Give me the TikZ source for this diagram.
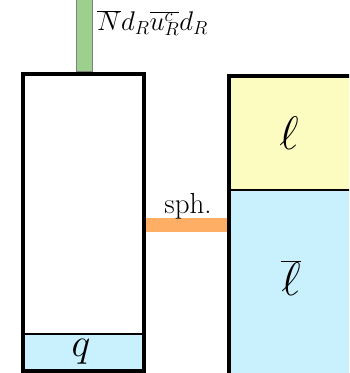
\RequirePackage{fix-cm}
\documentclass[tikz,border=0pt]{standalone}
\usepackage{fontspec}
\definecolor{barGreen}{RGB}{157,207,141}
\definecolor{barOrange}{RGB}{255,174,102}
\definecolor{fillYellow}{RGB}{252,252,192}
\definecolor{fillBlue}{RGB}{200,240,253}
\tikzset{
  bigbox/.style={draw=black, line width=4pt, inner sep=0pt, outer sep=0pt, anchor=north west},
  divider/.style={draw=black, line width=1.8pt},
  biglabel/.style={font=\fontsize{40}{44}\selectfont, inner sep=0pt},
  lepton/.style={font=\fontsize{47}{50}\selectfont, inner sep=0pt},
  smalllabel/.style={font=\fontsize{29}{34}\selectfont, inner sep=0pt},
  mathlabel/.style={font=\fontsize{27}{32}\selectfont, inner sep=0pt},
}
\begin{document}
\begin{tikzpicture}[x=1pt,y=-1pt]
\useasboundingbox (0,0) rectangle (349,373);
\clip (0,0) rectangle (349,373);
% fills
\fill[fillBlue] (23,334) rectangle (143.5,371);
\fill[fillYellow] (228.5,75.5) rectangle (351.5,190);
\fill[fillBlue] (228.5,190) rectangle (351.5,376);
% green bar
\node[draw=gray, line width=0.6pt, fill=barGreen, minimum width=15.5pt, minimum height=80pt, inner sep=0pt, anchor=south west] (gbar) at (76,72) {};
% orange bar
\node[fill=barOrange, minimum width=85pt, minimum height=14pt, inner sep=0pt] (obar) at (186,225) {};
% boxes
\node[bigbox, minimum width=120.5pt, minimum height=297.5pt] (left) at (23,73.5) {};
\node[bigbox, minimum width=123pt, minimum height=300pt] (right) at (228.5,75.5) {};
% dividers
\coordinate (ldl) at (23,334);
\coordinate (ldr) at (143.5,334);
\coordinate (rdl) at (228.5,190);
\coordinate (rdr) at (351.5,190);
\draw[divider, line width=1.5pt] (ldl) -- (ldr);
\draw[divider] (rdl) -- (rdr);
% labels
\node[biglabel] (q) at (81,352) {$q$};
\node[lepton] (l) at (289,133) {$\ell$};
\node[lepton] (lbar) at (291,278) {$\overline{\ell}$};
\node[smalllabel] (sph) at (188,206) {sph.};
\node[mathlabel, anchor=west] (glabel) at (97,23) {$\overline{N}d_R\overline{u^c_R}d_R$};
\end{tikzpicture}
\end{document}
